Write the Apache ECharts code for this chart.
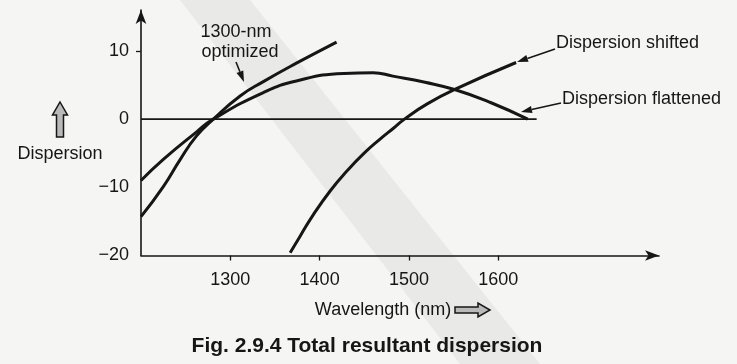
<!DOCTYPE html>
<html><head><meta charset="utf-8">
<script src="https://cdn.jsdelivr.net/npm/echarts@6/dist/echarts.min.js"></script>
<style>html,body{margin:0;padding:0;background:#f5f5f3}#c{width:737px;height:364px}</style>
</head><body><div id="c"></div>
<script>
// ---- data ----
const xTickValues = [1300, 1400, 1500, 1600];
const yTickValues = [10, 0, -10, -20];
const optimized1300 = [[1200,-14.3],[1225,-9.9],[1244,-5.9],[1262,-2.5],[1281,0],[1311,3.4],[1337,5.5],[1374,8.2],[1419,11.3]];
const flattened = [[1200,-9.0],[1225,-5.9],[1262,-1.9],[1281,0],[1337,3.9],[1374,5.6],[1427,6.7],[1460,6.8],[1482,6.3],[1518,5.4],[1552,4.3],[1592,2.4],[1633,0]];
const shifted = [[1367,-19.6],[1378,-17.2],[1393,-14.0],[1412,-10.5],[1430,-7.7],[1449,-5.1],[1468,-2.9],[1483,-1.3],[1495,0],[1520,2.2],[1552,4.4],[1620,8.3]];
const zeroLine = [[1200,0],[1643,0]];
const labels = {
  optimized: ['1300-nm', 'optimized'],
  shifted: 'Dispersion shifted',
  flattened: 'Dispersion flattened',
  yName: 'Dispersion',
  xName: 'Wavelength (nm)',
  title: 'Fig. 2.9.4 Total resultant dispersion'
};

const INK = '#161616';
const FONT = 'Liberation Sans, Arial, sans-serif';

function arrow(x1, y1, x2, y2) {
  const a = Math.atan2(y2 - y1, x2 - x1), L = 11, W = 3.6;
  const bx = x2 - L * Math.cos(a), by = y2 - L * Math.sin(a);
  const nx = -Math.sin(a) * W, ny = Math.cos(a) * W;
  return [
    {type:'line', z:100, shape:{x1, y1, x2: bx, y2: by}, style:{stroke: INK, lineWidth: 1.6}},
    {type:'polygon', z:100, shape:{points:[[x2,y2],[bx+nx,by+ny],[bx-nx,by-ny]]}, style:{fill: INK}}
  ];
}
function txt(text, x, y, opts) {
  return {type:'text', z:100, style:Object.assign({text, x, y, fill: INK,
    font: '18px ' + FONT, textAlign:'center', textVerticalAlign:'middle'}, opts || {})};
}

const chart = echarts.init(document.getElementById('c'), null, {renderer:'canvas'});
const mkSeries = (name, data, w, smooth) => ({
  name, type:'line', data, smooth: smooth, symbol:'none',
  lineStyle:{color: INK, width: w || 3}, z: 5
});

chart.setOption({
  backgroundColor: '#f5f5f3',
  animation: false,
  grid: {left: 141, right: 78, top: 10, bottom: 108.5},
  xAxis: {
    type:'value', min:1200, max:1780,
    splitLine:{show:false},
    axisLine:{onZero:false, lineStyle:{color: INK, width:1.6}, symbol:['none','arrow'], symbolSize:[8,14]},
    axisTick:{customValues: xTickValues, length:5, lineStyle:{color: INK, width:1.3}},
    axisLabel:{customValues: xTickValues, margin:16, fontSize:18, fontFamily: FONT, color: INK,
      formatter: v => String(v)}
  },
  yAxis: {
    type:'value', min:-20, max:16,
    splitLine:{show:false},
    axisLine:{onZero:false, lineStyle:{color: INK, width:1.6}, symbol:['none','arrow'], symbolSize:[8,14]},
    axisTick:{customValues:[10], length:5, lineStyle:{color: INK, width:1.3}},
    axisLabel:{customValues: yTickValues, margin:12, fontSize:18, fontFamily: FONT, color: INK,
      formatter: v => String(v).replace('-', '\u2212')}
  },
  series: [
    mkSeries('zero', zeroLine, 1.6, false),
    mkSeries('1300-nm optimized', optimized1300, 3, true),
    mkSeries('Dispersion flattened', flattened, 3, true),
    mkSeries('Dispersion shifted', shifted, 3, true)
  ],
  graphic: [
    // scanned-page grey band
    {type:'polygon', z:-100, shape:{points:[[180,0],[250,0],[540,364],[460,364]]}, style:{fill:'#e9e9e7'}},
    txt(labels.optimized[0], 236, 32),
    txt(labels.optimized[1], 240, 52),
    ...arrow(236, 62, 244, 82),
    txt(labels.shifted, 556, 43, {textAlign:'left'}),
    ...arrow(555, 49, 517, 62),
    txt(labels.flattened, 562, 99, {textAlign:'left'}),
    ...arrow(561, 103, 521, 112),
    txt(labels.yName, 60, 154),
    {type:'polygon', z:100, shape:{points:[[60,102],[67.5,115],[63.5,115],[63.5,137],[56.5,137],[56.5,115],[52.5,115]]},
      style:{fill:'#b9b9b9', stroke: INK, lineWidth:1.5}},
    txt(labels.xName, 383, 310),
    {type:'polygon', z:100, shape:{points:[[455,307],[478,307],[478,303],[490,310],[478,317],[478,313],[455,313]]},
      style:{fill:'#b9b9b9', stroke: INK, lineWidth:1.5}},
    txt(labels.title, 367, 346, {font:'bold 21px ' + FONT})
  ]
});
</script></body></html>
